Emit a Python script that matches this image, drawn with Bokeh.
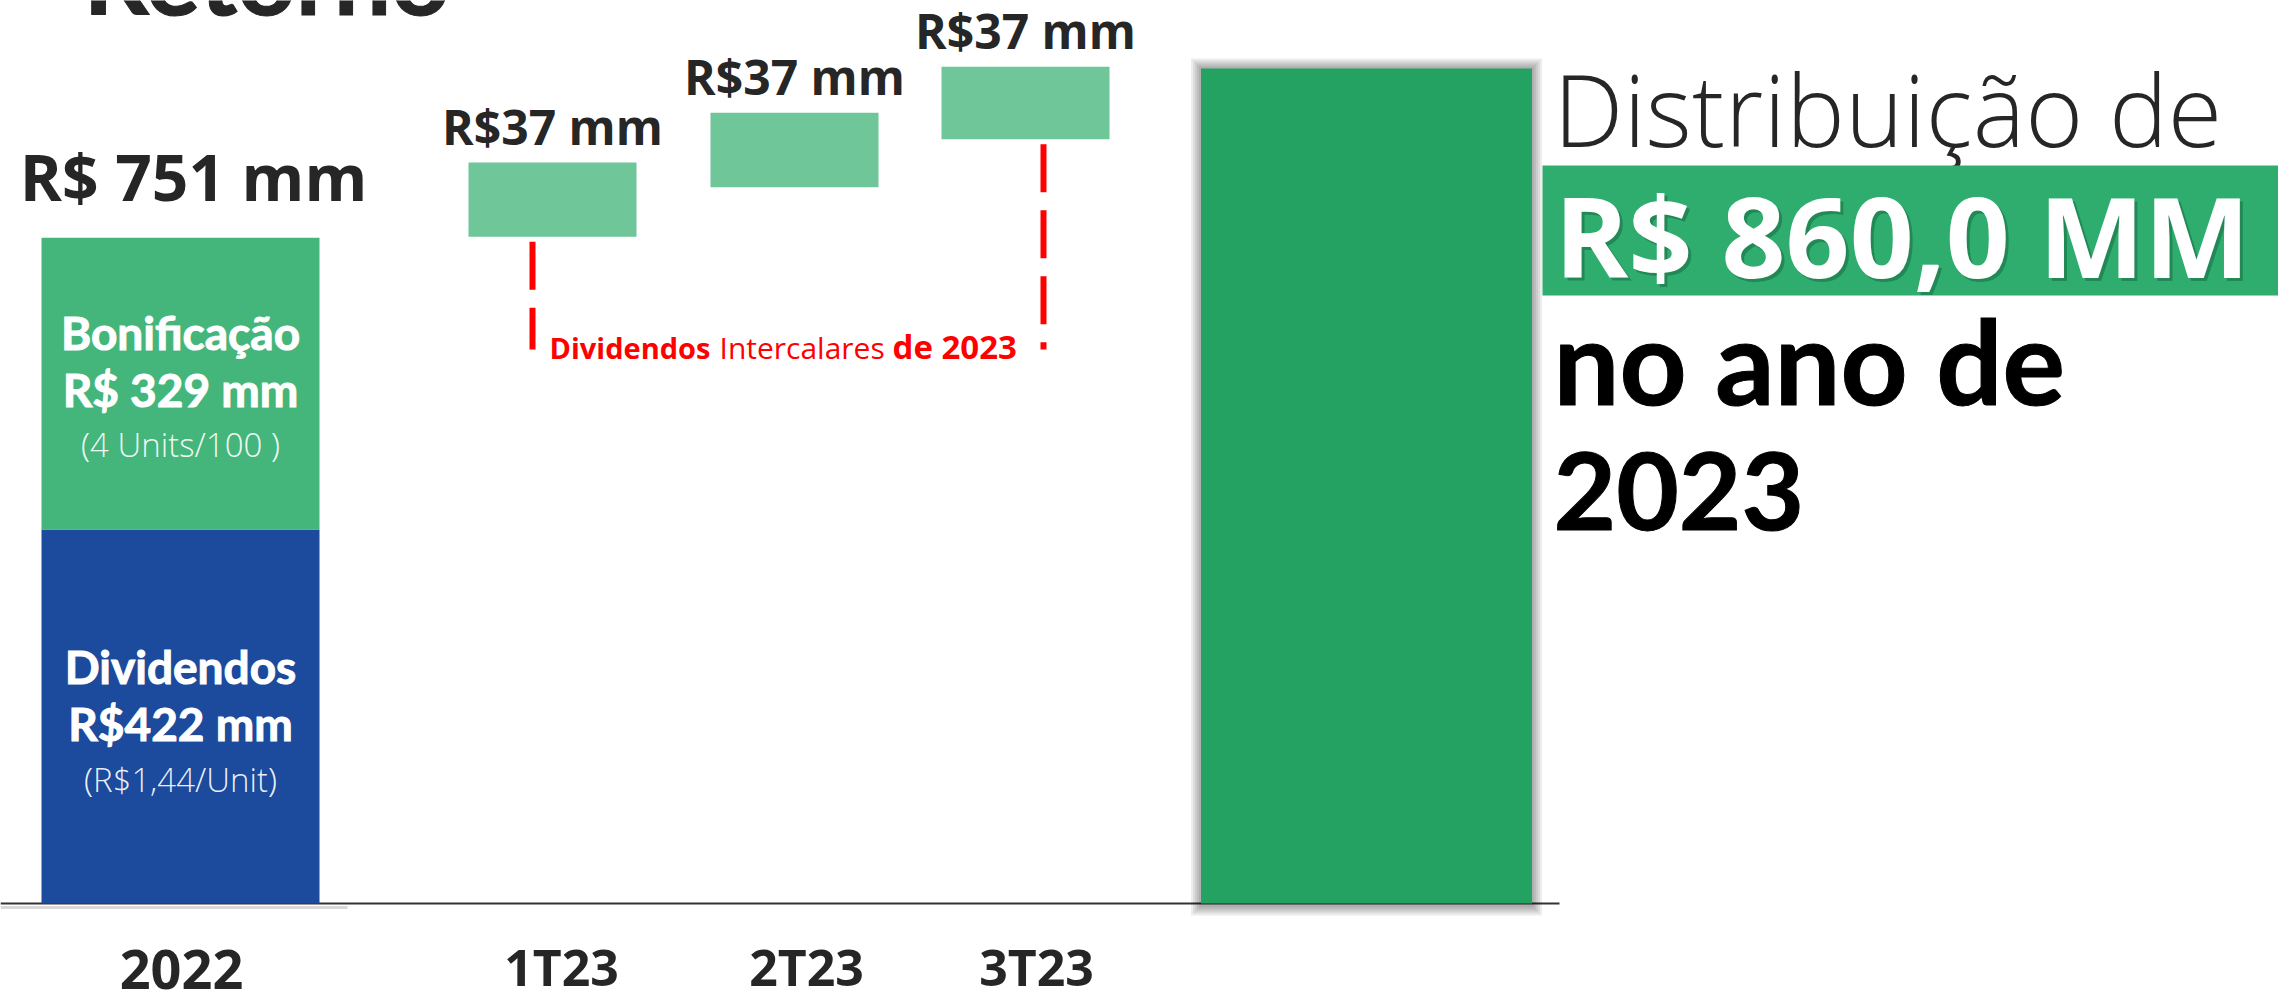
from bokeh.plotting import figure
from bokeh.models import Range1d, Text
from bokeh.core.properties import value
from bokeh.embed import file_html
from bokeh.resources import INLINE

# ---------------- data (R$ mm) ----------------
categories = ["2022", "1T23", "2T23", "3T23"]
dividendos_2022 = 422
bonificacao_2022 = 329
total_2022 = 751
quarter_values = [37, 37, 37]
# floating boxes as drawn in the waterfall (axis units, R$ mm)
quarter_bottom = [752, 808, 862]
quarter_top = [836, 892, 944]
total_2023 = 860.0
total_bar_top = 942          # drawn height of the total bar

# ---------------- layout / style ----------------
W, H = 2278, 992
BASE_PY = 903                # canvas y of value 0
S = 0.8865                   # px per R$ mm
K = 0.37                     # baseline correction (fraction of font size)

bar_x = [180, 552, 794, 1025, 1366]
bar_w = [278, 168, 168, 168, 331]

C_BLUE = "#1C4A9C"
C_BONUS = "#45B67B"
C_LIGHT = "#6EC699"
C_TOTAL = "#23A262"
C_HL = "#2EAD6E"
C_DARK = "#262626"
C_RED = "#FF0000"

F_BOLD = "Open Sans"
F_BLACK = "Lato"
F_LIGHT = "Open Sans Light, Open Sans"

HAS_OUTLINE = "text_outline_color" in Text.properties()


def to_px(v):
    return BASE_PY - S * v


p = figure(width=W, height=H, output_backend="svg", toolbar_location=None,
           x_axis_type=None, y_axis_type=None,
           x_range=Range1d(0, W),
           y_range=Range1d((BASE_PY - H) / S, BASE_PY / S),
           min_border=0, min_border_left=0, min_border_right=0,
           min_border_top=0, min_border_bottom=0)
p.extra_y_ranges = {"px": Range1d(start=H, end=0)}
p.outline_line_color = None
p.grid.visible = False
p.background_fill_color = "white"
p.border_fill_color = "white"


def txt(x, y, s, size, color, font, style="normal", align="left",
        rng="px", xo=0, yo=0, alpha=1.0, heavy=False):
    kw = dict(x=[x], y=[y], text=[s], text_font=value(font),
              text_font_size=f"{size}px", text_font_style=style,
              text_color=color, text_alpha=alpha, text_align=align,
              text_baseline="alphabetic", x_offset=xo, y_offset=yo - K * size,
              y_range_name=("default" if rng is None else rng))
    if heavy and HAS_OUTLINE:
        kw["text_outline_color"] = color
    p.text(**kw)


# title remnant (cut at top)
txt(83, 13, "Retorno", 102, C_DARK, F_BLACK, "bold", heavy=True)

# baseline lines
p.segment(x0=[0], y0=[0], x1=[1559], y1=[0], line_color="#333333", line_width=2)
p.segment(x0=[0], y0=[BASE_PY + 4], x1=[347], y1=[BASE_PY + 4],
          line_color="#D9D9D9", line_width=3, y_range_name="px")

# 2022 stacked bar
p.vbar(x=[bar_x[0]], width=bar_w[0], bottom=0, top=[dividendos_2022],
       fill_color=C_BLUE, line_color=None)
p.vbar(x=[bar_x[0]], width=bar_w[0], bottom=[dividendos_2022],
       top=[dividendos_2022 + bonificacao_2022], fill_color=C_BONUS, line_color=None)

# quarterly floating boxes
p.vbar(x=bar_x[1:4], width=bar_w[1], bottom=quarter_bottom, top=quarter_top,
       fill_color=C_LIGHT, line_color=None)

# total bar with soft shadow
for k in range(1, 6):
    pad = 2 * k
    p.quad(left=[bar_x[4] - bar_w[4] / 2 - pad], right=[bar_x[4] + bar_w[4] / 2 + pad],
           bottom=[-(pad + 2) / S], top=[total_bar_top + pad / S],
           fill_color="black", fill_alpha=0.07, line_color=None)
p.vbar(x=[bar_x[4]], width=bar_w[4], bottom=0, top=[total_bar_top],
       fill_color=C_TOTAL, line_color=None)

# value labels
txt(bar_x[0], total_2022, f"R$ {total_2022} mm", 64, C_DARK, F_BOLD, "bold",
    "center", rng=None, xo=13, yo=-38)
for xq, tq, vq in zip(bar_x[1:4], quarter_top, quarter_values):
    txt(xq, tq, f"R${vq} mm", 48, C_DARK, F_BOLD, "bold", "center", rng=None, yo=-18)

# labels inside 2022 bar
mid_b = dividendos_2022 + bonificacao_2022 / 2
mid_d = dividendos_2022 / 2
txt(bar_x[0], mid_b, "Bonificação", 46, "white", F_BLACK, "bold", "center", rng=None, yo=-34, heavy=True)
txt(bar_x[0], mid_b, f"R$ {bonificacao_2022} mm", 46, "white", F_BLACK, "bold", "center", rng=None, yo=23, heavy=True)
txt(bar_x[0], mid_b, "(4 Units/100 )", 33, "white", F_LIGHT, "normal", "center", rng=None, yo=73, alpha=0.92)
txt(bar_x[0], mid_d, "Dividendos", 46, "white", F_BLACK, "bold", "center", rng=None, yo=-33, heavy=True)
txt(bar_x[0], mid_d, f"R${dividendos_2022} mm", 46, "white", F_BLACK, "bold", "center", rng=None, yo=24, heavy=True)
txt(bar_x[0], mid_d, "(R$1,44/Unit)", 33, "white", F_LIGHT, "normal", "center", rng=None, yo=75, alpha=0.92)

# red dashed brackets
bracket_x = [532, 1043]
bracket_from = [to_px(quarter_bottom[0]) + 5, to_px(quarter_bottom[2]) + 5]
p.segment(x0=bracket_x, y0=bracket_from, x1=bracket_x, y1=[349, 349],
          line_color=C_RED, line_width=6, line_dash="48 18", y_range_name="px")
txt(549, 358, "Dividendos", 29, C_RED, F_BOLD, "bold")
txt(719, 358, "Intercalares", 30, C_RED, F_BOLD, "normal")
txt(892, 358, "de 2023", 33, C_RED, F_BOLD, "bold")

# category labels
cat_x = [bar_x[0] + 1, bar_x[1] + 9, bar_x[2] + 12, bar_x[3] + 11]
cat_size = [54, 50, 50, 50]
cat_y = [989, 985, 985, 985]
for cx, cy, cs, cat in zip(cat_x, cat_y, cat_size, categories):
    txt(cx, cy, cat, cs, C_DARK, F_BOLD, "bold", "center")

# right panel
txt(1553, 145, "Distribuição de", 99, C_DARK, F_LIGHT, "normal")
p.quad(left=[1542], right=[W], top=[165], bottom=[295],
       fill_color=C_HL, line_color=None, y_range_name="px")
total_txt = "R$ " + f"{total_2023:.1f}".replace(".", ",") + " MM"
txt(1557, 278, total_txt, 112, "#145C38", F_BOLD, "bold", alpha=0.45)
txt(1554, 275, total_txt, 112, "white", F_BOLD, "bold")
txt(1553, 403, "no ano de", 117, "black", F_BLACK, "bold", heavy=True)
txt(1553, 530, "2023", 108, "black", F_BLACK, "bold", heavy=True)

open("out.html", "w").write(file_html(p, INLINE))
